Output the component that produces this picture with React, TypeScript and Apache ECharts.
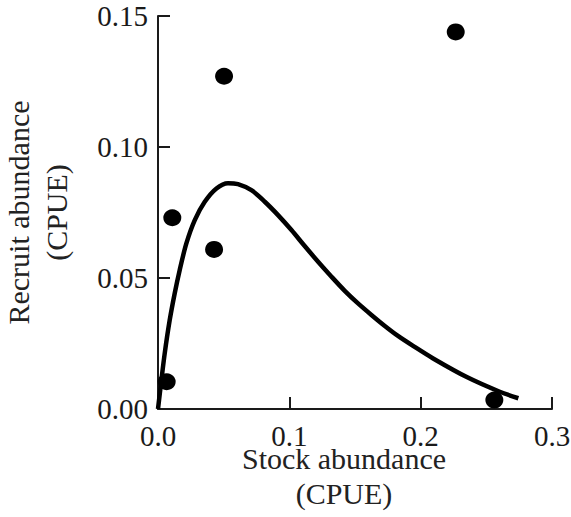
import React, { useEffect, useRef } from "react";
import * as echarts from "echarts";

const xTickLabels = ["0.0", "0.1", "0.2", "0.3"];
const yTickLabels = ["0.00", "0.05", "0.10", "0.15"];

const observedStock = [0.0066, 0.0109, 0.0427, 0.0503, 0.2267, 0.2561];
const observedRecruit = [0.0104, 0.073, 0.0609, 0.127, 0.1439, 0.0034];

const curveStock = [0, 0.0026, 0.0051, 0.0089, 0.0127, 0.0165, 0.0216, 0.028, 0.0356, 0.0445, 0.0533, 0.0609, 0.0711, 0.0813, 0.0914, 0.1016, 0.1117, 0.1219, 0.1321, 0.1422, 0.1523, 0.1625, 0.1727, 0.183, 0.1942, 0.2095, 0.2351, 0.2602, 0.2744];
const curveRecruit = [0, 0.0111, 0.0212, 0.0339, 0.0441, 0.053, 0.0632, 0.0721, 0.0791, 0.0842, 0.0862, 0.0858, 0.0835, 0.0791, 0.074, 0.0683, 0.0622, 0.0562, 0.0505, 0.0451, 0.0403, 0.0359, 0.0317, 0.0278, 0.0241, 0.0193, 0.0122, 0.0066, 0.0041];

const FONT = "'Liberation Serif', 'Times New Roman', serif";

export default function App() {
  const ref = useRef<HTMLDivElement>(null);
  useEffect(() => {
    if (!ref.current) return;
    const chart = echarts.init(ref.current, undefined, { renderer: "svg" });
    const axisColor = "#1a1a1a";
    chart.setOption({
      animation: false,
      backgroundColor: "#ffffff",
      grid: {
        left: 158,
        top: 16,
        width: 394,
        height: 393,
        containLabel: false,
        outerBoundsMode: "none",
      },
      xAxis: {
        type: "value",
        min: 0,
        max: 0.3,
        interval: 0.1,
        name: "Stock abundance\n(CPUE)",
        nameLocation: "middle",
        nameGap: 32,
        nameMoveOverlap: false,
        nameTextStyle: {
          fontFamily: FONT,
          fontSize: 30,
          color: "#222",
          lineHeight: 35,
          padding: [0, 22, 0, 0],
          verticalAlign: "top",
        },
        axisLine: { show: true, lineStyle: { color: axisColor, width: 2 } },
        axisTick: { show: true, inside: true, length: 12, lineStyle: { color: axisColor, width: 2 } },
        axisLabel: {
          fontFamily: FONT,
          fontSize: 29,
          color: axisColor,
          margin: 12,
          formatter: (v: number) => xTickLabels[Math.round(v * 10)] ?? "",
        },
        splitLine: { show: false },
      },
      yAxis: {
        type: "value",
        min: 0,
        max: 0.15,
        interval: 0.05,
        name: "Recruit abundance\n(CPUE)",
        nameLocation: "middle",
        nameGap: 83,
        nameMoveOverlap: false,
        nameRotate: 90,
        nameTextStyle: {
          fontFamily: FONT,
          fontSize: 30,
          color: "#222",
          lineHeight: 38,
        },
        axisLine: { show: true, lineStyle: { color: axisColor, width: 2 } },
        axisTick: { show: true, inside: true, length: 12, lineStyle: { color: axisColor, width: 2 } },
        axisLabel: {
          fontFamily: FONT,
          fontSize: 29,
          color: axisColor,
          margin: 10,
          formatter: (v: number) => yTickLabels[Math.round(v * 20)] ?? "",
        },
        splitLine: { show: false },
      },
      series: [
        {
          type: "line",
          data: curveStock.map((s, i) => [s, curveRecruit[i]]),
          smooth: 0.3,
          showSymbol: false,
          lineStyle: { color: "#000", width: 4.5 },
          z: 2,
        },
        {
          type: "scatter",
          data: observedStock.map((s, i) => [s, observedRecruit[i]]),
          symbol: "circle",
          symbolSize: [18, 17],
          itemStyle: { color: "#000", opacity: 1 },
          z: 3,
        },
      ],
    });
    return () => chart.dispose();
  }, []);
  return (
    <div
      ref={ref}
      style={{ position: "absolute", left: 0, top: 0, width: 571, height: 517 }}
    />
  );
}
